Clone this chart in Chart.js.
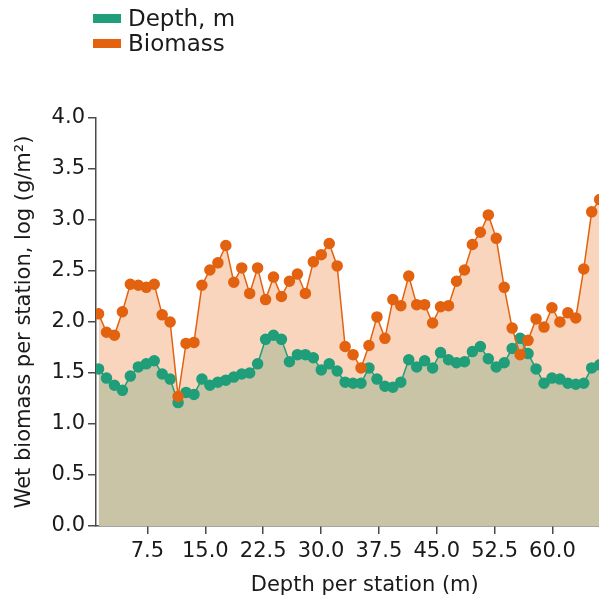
<!DOCTYPE html>
<html>
<head>
<meta charset="utf-8">
<script src="https://cdn.jsdelivr.net/npm/chart.js@4/dist/chart.umd.min.js"></script>
<style>
  body { margin: 0; background: #fff; overflow: hidden; }
  #wrap { position: relative; width: 599px; height: 609px; overflow: hidden; }
  #legend { position: absolute; left: 93px; top: 6px; font-family: "DejaVu Sans", sans-serif; font-size: 23px; color: #1a1a1a; line-height: 25px; }
  .item { display: flex; align-items: center; }
  .swatch { width: 28px; height: 9px; margin-right: 7px; }
</style>
</head>
<body>
<div id="wrap">
  <canvas id="chart" width="640" height="609"></canvas>
  <div id="legend"></div>
</div>
<script>
// station depths (x)
const stations = [1.16, 2.19, 3.22, 4.25, 5.28, 6.32, 7.35, 8.38, 9.41, 10.44,
  11.47, 12.50, 13.53, 14.56, 15.59, 16.63, 17.66, 18.69, 19.72, 20.75,
  21.78, 22.81, 23.84, 24.87, 25.90, 26.94, 27.97, 29.00, 30.03, 31.06,
  32.09, 33.12, 34.15, 35.18, 36.21, 37.25, 38.28, 39.31, 40.34, 41.37,
  42.40, 43.43, 44.46, 45.49, 46.52, 47.56, 48.59, 49.62, 50.65, 51.68,
  52.71, 53.74, 54.77, 55.80, 56.83, 57.87, 58.90, 59.93, 60.96, 61.99,
  63.02, 64.05, 65.08, 66.11];

const biomass = [2.08, 1.90, 1.87, 2.10, 2.37, 2.36, 2.34, 2.37, 2.07, 2.00,
  1.27, 1.79, 1.80, 2.36, 2.51, 2.58, 2.75, 2.39, 2.53, 2.28,
  2.53, 2.22, 2.44, 2.25, 2.40, 2.47, 2.28, 2.59, 2.66, 2.77,
  2.55, 1.76, 1.68, 1.55, 1.77, 2.05, 1.84, 2.22, 2.16, 2.45,
  2.17, 2.17, 1.99, 2.15, 2.16, 2.40, 2.51, 2.76, 2.88, 3.05,
  2.82, 2.34, 1.94, 1.68, 1.82, 2.03, 1.95, 2.14, 2.00, 2.09,
  2.04, 2.52, 3.08, 3.20];

const depth = [1.54, 1.45, 1.38, 1.33, 1.47, 1.56, 1.59, 1.62, 1.49, 1.44,
  1.21, 1.31, 1.29, 1.44, 1.38, 1.41, 1.43, 1.46, 1.49, 1.50,
  1.59, 1.83, 1.87, 1.83, 1.61, 1.68, 1.68, 1.65, 1.53, 1.59,
  1.52, 1.41, 1.40, 1.40, 1.55, 1.44, 1.37, 1.36, 1.41, 1.63,
  1.56, 1.62, 1.55, 1.70, 1.63, 1.60, 1.61, 1.71, 1.76, 1.64,
  1.56, 1.60, 1.74, 1.84, 1.69, 1.54, 1.40, 1.45, 1.44, 1.40,
  1.39, 1.40, 1.55, 1.58];

const xTicks = [7.5, 15.0, 22.5, 30.0, 37.5, 45.0, 52.5, 60.0];
const yTicks = [0.0, 0.5, 1.0, 1.5, 2.0, 2.5, 3.0, 3.5, 4.0];

const GREEN = '#1f9e79';
const ORANGE = '#e2620f';
const PEACH = '#f9d5be';
const TAN = '#cac4a6';
const AXIS = '#4a4a4a';
const FONT = { family: '"DejaVu Sans", sans-serif', size: 21 };

// html legend, stacked like the original
const legendItems = [['Depth, m', GREEN], ['Biomass', ORANGE]];
const legend = document.getElementById('legend');
legendItems.forEach(([txt, col]) => {
  const row = document.createElement('div');
  row.className = 'item';
  row.innerHTML = '<span class="swatch" style="background:' + col + '"></span><span>' + txt + '</span>';
  legend.appendChild(row);
});

const toPoints = arr => arr.map((v, i) => ({ x: stations[i], y: v }));

// the original picture is cut off on the right, so the canvas runs past the window
new Chart(document.getElementById('chart'), {
  type: 'line',
  data: {
    datasets: [
      {
        label: 'Biomass',
        data: toPoints(biomass),
        borderColor: ORANGE,
        backgroundColor: ORANGE,
        pointBackgroundColor: ORANGE,
        pointBorderColor: ORANGE,
        pointRadius: 5,
        borderWidth: 1.5,
        fill: { target: 1, above: PEACH, below: TAN },
      },
      {
        label: 'Depth, m',
        data: toPoints(depth),
        borderColor: GREEN,
        backgroundColor: TAN,
        pointBackgroundColor: GREEN,
        pointBorderColor: GREEN,
        pointRadius: 5,
        borderWidth: 1.5,
        fill: 'origin',
      },
    ],
  },
  options: {
    responsive: false,
    animation: false,
    layout: { padding: { top: 118, right: 0, bottom: 0, left: 0 } },
    plugins: {
      legend: { display: false },
      tooltip: { enabled: false },
      filler: { drawTime: 'beforeDatasetsDraw' },
    },
    scales: {
      x: {
        type: 'linear',
        min: 0.83,
        max: 70.5,
        afterFit: s => { s.height = 83; },
        afterBuildTicks: s => { s.ticks = xTicks.map(v => ({ value: v })); },
        grid: { drawOnChartArea: false, tickLength: 8, color: AXIS, lineWidth: 1.5 },
        border: { color: AXIS, width: 1.5 },
        ticks: { color: '#1a1a1a', font: FONT, padding: 5, maxRotation: 0, callback: v => v.toFixed(1) },
        title: { display: true, text: 'Depth per station (m)', color: '#1a1a1a', font: FONT, padding: { top: 0, bottom: 11 } },
      },
      y: {
        min: 0,
        max: 4,
        afterFit: s => { s.width = 96; },
        afterBuildTicks: s => { s.ticks = yTicks.map(v => ({ value: v })); },
        grid: { drawOnChartArea: false, tickLength: 8, color: AXIS, lineWidth: 1.5 },
        border: { color: AXIS, width: 1.5 },
        ticks: { color: '#1a1a1a', font: FONT, padding: 3, callback: v => v.toFixed(1) },
        title: { display: true, text: 'Wet biomass per station, log (g/m\u00b2)', color: '#1a1a1a', font: FONT, padding: { top: 12, bottom: 0 } },
      },
    },
  },
});
</script>
</body>
</html>
